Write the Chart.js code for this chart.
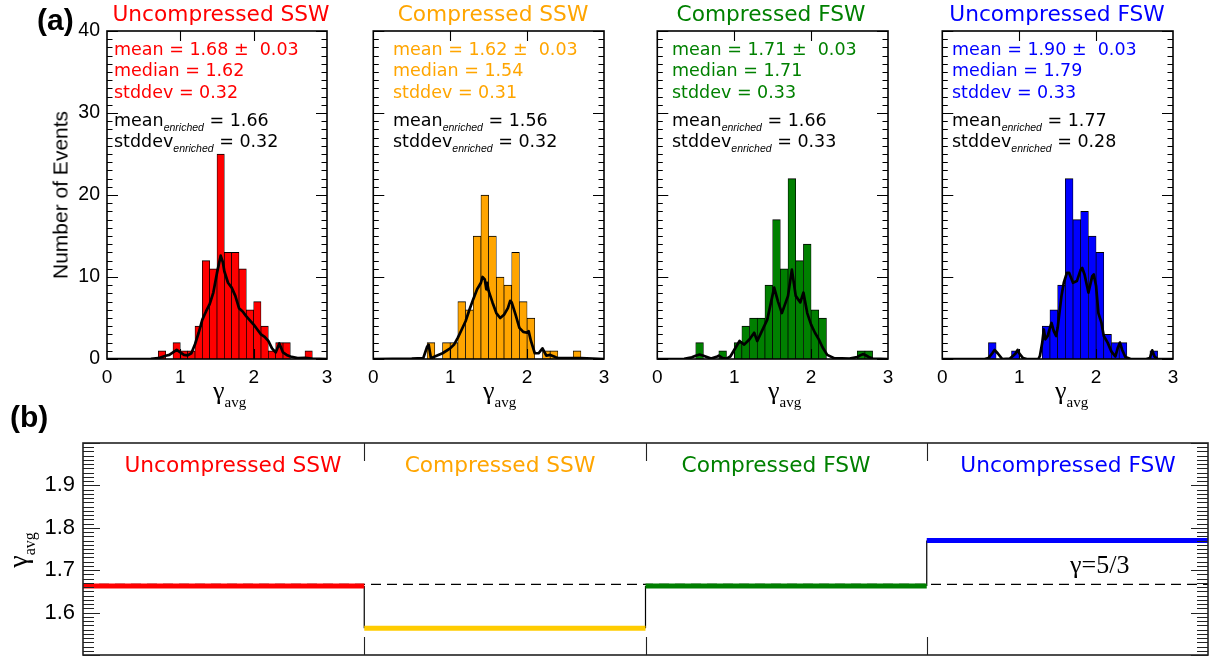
<!DOCTYPE html>
<html><head><meta charset="utf-8">
<script src="https://cdn.jsdelivr.net/npm/chart.js@4.4.1/dist/chart.umd.min.js"></script>
<style>
html,body{margin:0;padding:0;background:#fff;width:1212px;height:657px;overflow:hidden;position:relative;}
canvas{position:absolute;}
.t{position:absolute;white-space:pre;line-height:1;}
.sub{font-family:'Liberation Sans';font-style:italic;font-size:10.5px;position:relative;top:5px;}
</style></head><body>
<script>
// ---------------- DATA ----------------
const binCenters = [0.05,0.15,0.25,0.35,0.45,0.55,0.65,0.75,0.85,0.95,1.05,1.15,1.25,1.35,1.45,1.55,1.65,1.75,1.85,1.95,2.05,2.15,2.25,2.35,2.45,2.55,2.65,2.75,2.85,2.95];
const countsUncSSW = [0,0,0,0,0,0,0,1,0,2, 1,1,4,12,11,25,13,13,11,6, 7,4,1,2,2,0,0,1,0,0];
const countsCmpSSW = [0,0,0,0,0,0,0,2,0,2, 2,7,6,15,20,15,10,9,13,7, 5,0,1,1,0,0,1,0,0,0];
const countsCmpFSW = [0,0,0,0,0,2,0,0,1,0, 2,4,5,5,9,17,11,22,12,14, 6,5,0,0,0,0,1,1,0,0];
const countsUncFSW = [0,0,0,0,0,0,2,0,0,1, 0,0,0,4,6,9,22,17,18,15, 13,3,2,2,0,0,0,1,0,0];

const kdeXUncSSW = [0,0.6,0.7,0.8,0.85,0.95,1.0,1.05,1.1,1.15,1.2,1.25,1.3,1.35,1.4,1.45,1.5,1.55,1.58,1.6,1.65,1.7,1.75,1.8,1.85,1.9,2.0,2.05,2.1,2.15,2.2,2.25,2.3,2.35,2.4,2.45,2.5,2.6,2.7,2.8,3.0];
const kdeYUncSSW = [0,0.02,0.1,0.4,0.5,1.1,0.8,0.5,0.45,0.7,1.8,3.2,4.8,5.8,6.7,8.1,10.5,12.6,11.8,10.7,9.3,8.7,7.7,6.2,5.8,5.2,4.2,3.6,3.0,2.7,2.2,1.3,0.8,1.9,0.8,0.5,0.3,0.1,0.15,0.05,0];
const kdeXCmpSSW = [0,0.5,0.65,0.7,0.72,0.75,0.8,0.9,1.0,1.05,1.1,1.15,1.2,1.25,1.3,1.35,1.4,1.42,1.45,1.47,1.48,1.5,1.55,1.6,1.65,1.7,1.75,1.78,1.8,1.85,1.9,1.95,2.0,2.02,2.05,2.1,2.15,2.2,2.25,2.3,2.35,2.4,2.6,2.7,3.0];
const kdeYCmpSSW = [0,0.05,0.1,1.5,1.75,0.1,0.3,0.7,1.3,1.75,2.6,3.6,4.6,6.0,7.3,8.5,9.3,10.0,9.7,8.5,9.3,8.3,6.9,5.6,5.0,5.4,6.2,7.1,6.9,5.4,3.8,3.3,3.2,3.4,2.2,0.7,0.7,1.3,0.4,0.5,0.3,0.1,0.1,0.1,0];
const kdeXCmpFSW = [0,0.35,0.45,0.5,0.55,0.6,0.7,0.78,0.8,0.85,0.9,0.95,1.0,1.07,1.13,1.2,1.26,1.3,1.36,1.43,1.52,1.57,1.62,1.7,1.75,1.8,1.86,1.9,1.95,2.0,2.05,2.1,2.15,2.21,2.3,2.5,2.6,2.65,2.68,2.71,2.75,2.8,3.0];
const kdeYCmpFSW = [0,0.02,0.2,0.4,0.55,0.4,0.05,0.3,0.4,0.1,0.05,0.3,1.1,2.2,1.75,2.4,3.2,2.2,3.4,4.8,8.7,7.0,5.6,7.7,10.9,7.7,6.9,8.1,5.6,4.2,3.2,2.4,1.4,0.5,0.1,0.05,0.25,0.5,0.6,0.45,0.25,0.05,0];
const kdeXUncFSW = [0,0.55,0.6,0.65,0.68,0.72,0.78,0.88,0.95,0.98,1.0,1.05,1.1,1.25,1.27,1.3,1.32,1.34,1.37,1.4,1.42,1.45,1.48,1.5,1.55,1.58,1.62,1.65,1.7,1.75,1.8,1.82,1.85,1.9,1.95,1.97,2.0,2.03,2.07,2.1,2.15,2.2,2.25,2.28,2.31,2.34,2.38,2.45,2.65,2.7,2.73,2.76,2.8,3.0];
const kdeYUncFSW = [0,0,0.1,0.7,1.1,0.7,0,0.05,0.65,1.1,0.7,0.1,0,0,0.4,2.0,3.6,2.4,2.8,3.8,4.4,3.4,2.8,3.8,7.7,9.3,10.5,10.5,9.3,9.5,10.9,11.1,10.3,8.1,10.1,10.3,8.9,5.6,4.4,2.8,2.0,0.9,0.3,1.3,2.0,1.1,0.25,0,0,0.1,1.05,0.3,0,0];

const seriesNames = ['Uncompressed SSW','Compressed SSW','Compressed FSW','Uncompressed FSW'];
const statsMean = ['1.68','1.62','1.71','1.90'];
const statsErr = ['0.03','0.03','0.03','0.03'];
const statsMedian = ['1.62','1.54','1.71','1.79'];
const statsStd = ['0.32','0.31','0.33','0.33'];
const statsMeanEnr = ['1.66','1.56','1.66','1.77'];
const statsStdEnr = ['0.32','0.32','0.33','0.28'];

const xTickLabelsA = ['0','1','2','3'];
const yTickLabelsA = ['0','10','20','30','40'];

const gammaB = [1.663,1.563,1.663,1.770];
const gammaRef = 1.6667;
const yTickLabelsB = ['1.6','1.7','1.8','1.9'];

// ---------------- STYLE / LAYOUT ----------------
const counts = [countsUncSSW,countsCmpSSW,countsCmpFSW,countsUncFSW];
const kdeX = [kdeXUncSSW,kdeXCmpSSW,kdeXCmpFSW,kdeXUncFSW];
const kdeY = [kdeYUncSSW,kdeYCmpSSW,kdeYCmpFSW,kdeYUncFSW];
const seriesColors = ['#FF0000','#FFA500','#008000','#0000FF'];
const lineColorsB = ['#FF0000','#FFCC00','#007F00','#0000FF'];
const plotsA = [{left:107,right:327},{left:371,right:604},{left:655,right:888},{left:940,right:1173}];
const TOP=31, BOTTOM=359, CANVAS_H=420;

Chart.defaults.font.family = "'Liberation Sans', Arial, sans-serif";
Chart.defaults.color = '#000';

const framePlugin = {
  id:'frame',
  afterDatasetsDraw(chart, args, o){
    const {ctx, chartArea:a, scales:{x,y}} = chart;
    ctx.save();
    ctx.strokeStyle = o.color; ctx.lineWidth = o.tickWidth;
    ctx.beginPath();
    const n = Math.round((y.max - y.min)/o.yMinorStep);
    for (let i=0;i<=n;i++){
      const v = y.min + i*o.yMinorStep;
      const len = (i % o.minorPerMajor === 0) ? o.yMajorLen : o.yMinorLen;
      const py = Math.round(y.getPixelForValue(v)) + 0.5;
      ctx.moveTo(a.left,py); ctx.lineTo(a.left+len,py);
      ctx.moveTo(a.right,py); ctx.lineTo(a.right-len,py);
    }
    for (const v of o.xMajor){
      const px = Math.round(x.getPixelForValue(v)) + 0.5;
      ctx.moveTo(px,a.top); ctx.lineTo(px,a.top+o.xLen);
      ctx.moveTo(px,a.bottom); ctx.lineTo(px,a.bottom-o.xLen);
    }
    ctx.stroke();
    ctx.lineWidth = o.frameWidth;
    ctx.strokeRect(a.left, a.top, a.right-a.left, a.bottom-a.top);
    ctx.restore();
  }
};

function addCanvas(left, top, w, h){
  const c = document.createElement('canvas');
  c.width = w; c.height = h;
  c.style.left = left+'px'; c.style.top = top+'px';
  c.style.width = w+'px'; c.style.height = h+'px';
  document.body.appendChild(c);
  return c;
}

function makeHist(i){
  const p = plotsA[i];
  const first = i===0;
  const yW = first ? 67 : 0;
  const padL = first ? 0 : 10, padR = 15;
  const w = (p.right-p.left) + yW + padL + padR;
  const c = addCanvas(p.left - yW - padL, 0, w, CANVAS_H);
  new Chart(c, {
    type:'bar',
    data:{datasets:[
      {type:'line', data:kdeX[i].map((x,j)=>({x, y:kdeY[i][j]})), borderColor:'#000', borderWidth:2.7, pointRadius:0, tension:0, borderJoinStyle:'round'},
      {type:'bar', data:binCenters.map((x,j)=>({x, y:counts[i][j]})), backgroundColor:seriesColors[i], borderColor:'#000',
       borderWidth:{top:1,left:0.7,right:0.7,bottom:0}, barPercentage:1, categoryPercentage:1, borderSkipped:'start'}
    ]},
    options:{
      responsive:false, animation:false, devicePixelRatio:1,
      layout:{padding:{left:padL, top:TOP, right:padR, bottom:0}},
      plugins:{legend:{display:false}, tooltip:{enabled:false},
        frame:{color:'#000', tickWidth:1.1, frameWidth:1.6, yMinorStep:1, minorPerMajor:10, yMajorLen:11, yMinorLen:5.5, xMajor:[1,2], xLen:10}},
      scales:{
        x:{type:'linear', min:0, max:3, offset:false, grid:{display:false, drawTicks:false, offset:false}, border:{display:false},
           ticks:{stepSize:1, padding:7, font:{size:19}, maxRotation:0, autoSkip:false, callback:(v)=> xTickLabelsA[Math.round(v)] ?? ''},
           afterFit:(s)=>{ s.height = CANVAS_H - BOTTOM; }},
        y:{type:'linear', min:0, max:40, display:first, grid:{display:false, drawTicks:false}, border:{display:false},
           ticks:{stepSize:10, padding:7, font:{size:19.5}, callback:(v)=> yTickLabelsA.includes(String(v)) ? String(v) : ''},
           afterFit:(s)=>{ s.width = yW; }}
      }
    },
    plugins:[framePlugin]
  });
}
for (let i=0;i<4;i++) makeHist(i);

// Panel (b)
(function(){
  const c = addCanvas(0, 420, 1212, 262);
  const segs = gammaB.map((v,i)=>({type:'line', data:[{x:i,y:v},{x:i+1,y:v}], borderColor:lineColorsB[i], borderWidth:5, pointRadius:0, borderCapStyle:'butt'}));
  const conn = [];
  for (let i=1;i<gammaB.length;i++){ conn.push({x:i,y:gammaB[i-1]},{x:i,y:gammaB[i]},{x:i,y:null}); }
  new Chart(c, {
    type:'line',
    data:{datasets:[
      ...segs,
      {data:conn, borderColor:'#000', borderWidth:1.2, pointRadius:0, spanGaps:false},
      {data:[{x:0,y:gammaRef},{x:gammaB.length,y:gammaRef}], borderColor:'#000', borderWidth:1.3, borderDash:[10,6], pointRadius:0}
    ]},
    options:{
      responsive:false, animation:false, devicePixelRatio:1,
      layout:{padding:{left:0, top:23, right:4, bottom:27}},
      plugins:{legend:{display:false}, tooltip:{enabled:false},
        frame:{color:'#222', tickWidth:1.1, frameWidth:1.6, yMinorStep:0.01, minorPerMajor:10, yMajorLen:17, yMinorLen:11, xMajor:[1,2,3], xLen:18}},
      scales:{
        x:{type:'linear', min:0, max:gammaB.length, display:false},
        y:{type:'linear', min:1.5, max:2.0, grid:{display:false, drawTicks:false}, border:{display:false},
           ticks:{stepSize:0.1, padding:8, font:{size:22}, callback:(v)=>{ const s=v.toFixed(1); return yTickLabelsB.includes(s)?s:''; }},
           afterFit:(s)=>{ s.width = 83; }}
      }
    },
    plugins:[framePlugin]
  });
})();

// ---------------- TEXT ----------------
function txt(html, x, base, fs, fam, color, align, weight){
  const d = document.createElement('div');
  d.className = 't';
  d.innerHTML = html;
  const k = fam.indexOf('Serif')>=0 ? 0.8375 : 0.846;
  d.style.left = x+'px';
  d.style.top = (base - k*fs)+'px';
  d.style.fontSize = fs+'px';
  d.style.fontFamily = fam;
  d.style.color = color;
  if (weight) d.style.fontWeight = weight;
  if (align==='center') d.style.transform = 'translateX(-50%)';
  document.body.appendChild(d);
  return d;
}
const DV = "'DejaVu Sans'", LS = "'Liberation Sans'", SR = "'Liberation Serif'";

txt('(a)', 37, 30, 30, LS, '#000', null, 'bold');
txt('(b)', 10, 427, 30, LS, '#000', null, 'bold');

const titleCenters = [221, 493, 771, 1057];
const statsLeft = [114, 393, 672, 952];
const gammaLeft = [213, 483, 768, 1055];
for (let i=0;i<4;i++){
  txt(seriesNames[i], titleCenters[i], 21, 21.7, DV, seriesColors[i], 'center');
  const L = statsLeft[i];
  txt(`mean = ${statsMean[i]} ±  ${statsErr[i]}`, L, 56, 17.5, DV, seriesColors[i]);
  txt(`median = ${statsMedian[i]}`, L, 77.3, 17.5, DV, seriesColors[i]);
  txt(`stddev = ${statsStd[i]}`, L, 99, 17.5, DV, seriesColors[i]);
  txt(`mean<span class="sub">enriched</span> = ${statsMeanEnr[i]}`, L, 126.7, 17.5, DV, '#000');
  txt(`stddev<span class="sub">enriched</span> = ${statsStdEnr[i]}`, L, 147.7, 17.5, DV, '#000');
  txt(`γ<span style="font-size:15px;position:relative;top:8px">avg</span>`, gammaLeft[i], 400, 26, SR, '#000');
}

// Number of Events (rotated)
(function(){
  const d = document.createElement('div');
  d.className='t';
  d.textContent = 'Number of Events';
  d.style.cssText += "left:60px;top:195px;font-size:21px;font-family:'Liberation Sans';color:#000;transform:translate(-50%,-50%) rotate(-90deg);";
  document.body.appendChild(d);
})();

// panel b labels
const labelCentersB = [233, 500, 776, 1068];
const labelColorsB = ['#FF0000','#FFA500','#008000','#0000FF'];
for (let i=0;i<4;i++) txt(seriesNames[i], labelCentersB[i], 472, 21.7, DV, labelColorsB[i], 'center');

txt('γ=5/3', 1070, 574, 26, SR, '#000');

(function(){
  const d = document.createElement('div');
  d.className='t';
  d.innerHTML = 'γ<span style="font-size:16px;position:relative;top:8px">avg</span>';
  d.style.cssText += "left:18px;top:550px;font-size:28px;font-family:'Liberation Serif';color:#000;transform:translate(-50%,-50%) rotate(-90deg);";
  document.body.appendChild(d);
})();
</script>
</body></html>
